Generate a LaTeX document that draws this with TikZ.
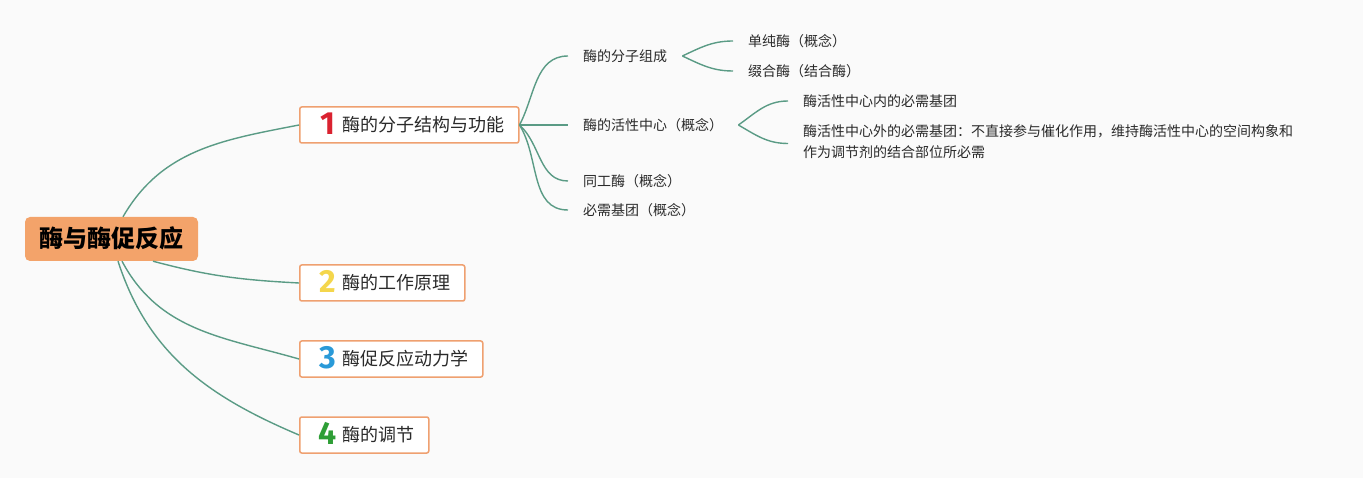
\documentclass[tikz,border=0pt]{standalone}
\usepackage{fontspec}
\setmainfont{Noto Sans CJK SC}
\newfontfamily\numfont{Fira Sans}
\usetikzlibrary{positioning,calc}
\definecolor{mapbg}{HTML}{FAFAFA}
\definecolor{rootorange}{HTML}{F3A36A}
\definecolor{boxorange}{HTML}{EFA070}
\definecolor{linegreen}{HTML}{5A9B85}
\definecolor{numred}{HTML}{DA2230}
\definecolor{numyellow}{HTML}{F4D64C}
\definecolor{numblue}{HTML}{2A9AD8}
\definecolor{numgreen}{HTML}{2E9E36}
\definecolor{leaftext}{HTML}{2A2A2A}

\newcommand{\topicnum}[2]{\hspace*{18pt}\makebox[20pt]{\raisebox{-2.5pt}{\numfont\fontsize{32}{32}\selectfont\bfseries\color{#1}#2}}\hspace*{5pt}}

\tikzset{
  rootbox/.style={fill=rootorange, rounded corners=5pt, minimum width=173pt, minimum height=44pt, inner sep=0pt,
    font=\fontsize{24}{24}\selectfont\bfseries, text height=18pt, text depth=0pt},
  topicbox/.style={draw=boxorange, line width=1.5pt, fill=white, rounded corners=2pt, minimum height=36pt,
    inner xsep=0pt, inner ysep=0pt, anchor=west, text=leaftext,
    font=\fontsize{18}{18}\selectfont, text height=16pt, text depth=2.4pt},
  leafbase/.style={anchor=west, inner xsep=15pt, inner ysep=2pt, text=leaftext},
  leaf/.style={leafbase, font=\fontsize{14}{14}\selectfont, text height=12pt, text depth=1.4pt},
  longleaf/.style={leafbase, align=left, font=\fontsize{14}{21}\selectfont},
  branch/.style={draw=linegreen, line width=1.4pt},
}

\begin{document}
\begin{tikzpicture}[x=1pt, y=-1pt]
  \fill[mapbg] (0,0) rectangle (1363,478);
  \useasboundingbox (0,0) rectangle (1363,478);

  %% --- ROOT AND MAIN TOPICS ---
  \node[rootbox] (root) at (111.5,239) {酶与酶促反应};

  \node[topicbox] (topic1) at (299,125) {\topicnum{numred}{1}酶的分子结构与功能\hspace*{14pt}};
  \node[topicbox] (topic2) at (299,283) {\topicnum{numyellow}{2}酶的工作原理\hspace*{14pt}};
  \node[topicbox] (topic3) at (299,359) {\topicnum{numblue}{3}酶促反应动力学\hspace*{14pt}};
  \node[topicbox] (topic4) at (299,435) {\topicnum{numgreen}{4}酶的调节\hspace*{14pt}};

  \draw[branch] ([xshift=11.5pt]root.north) to[out=60, in=191] (topic1.west);
  \draw[branch] ([xshift=41.5pt]root.south) to[out=-15, in=177] (topic2.west);
  \draw[branch] ([xshift=10.5pt]root.south) to[out=-62, in=164] (topic3.west);
  \draw[branch] ([xshift=6.5pt]root.south)  to[out=-72, in=157] (topic4.west);

  %% --- SUBTOPICS OF 1 ---
  \node[leaf] (compo)  at (568,56)  {酶的分子组成};
  \node[leaf] (active) at (568,125) {酶的活性中心（概念）};
  \node[leaf] (iso)    at (568,181) {同工酶（概念）};
  \node[leaf] (group)  at (568,210) {必需基团（概念）};

  \draw[branch] (topic1.east) to[out=62, in=180] (compo.west);
  \draw[branch] (topic1.east) -- (active.west);
  \draw[branch] (topic1.east) to[out=-42, in=180] (iso.west);
  \draw[branch] (topic1.east) to[out=-58, in=180] (group.west);

  %% --- LEAVES ---
  \node[leaf] (simple)  at (733,41) {单纯酶（概念）};
  \node[leaf] (conjug)  at (733,71) {缀合酶（结合酶）};
  \draw[branch] (compo.east) to[out=25, in=180] (simple.west);
  \draw[branch] (compo.east) to[out=-25, in=180] (conjug.west);

  \node[leaf] (inside)  at (788,101) {酶活性中心内的必需基团};
  \node[longleaf] (outside) at (788,141.5)
    {酶活性中心外的必需基团：不直接参与催化作用，维持酶活性中心的空间构象和\\作为调节剂的结合部位所必需};
  \draw[branch] (active.east) to[out=35, in=180] (inside.west);
  \draw[branch] (active.east) to[out=-30, in=180] ([yshift=-2pt]outside.west);
\end{tikzpicture}
\end{document}
